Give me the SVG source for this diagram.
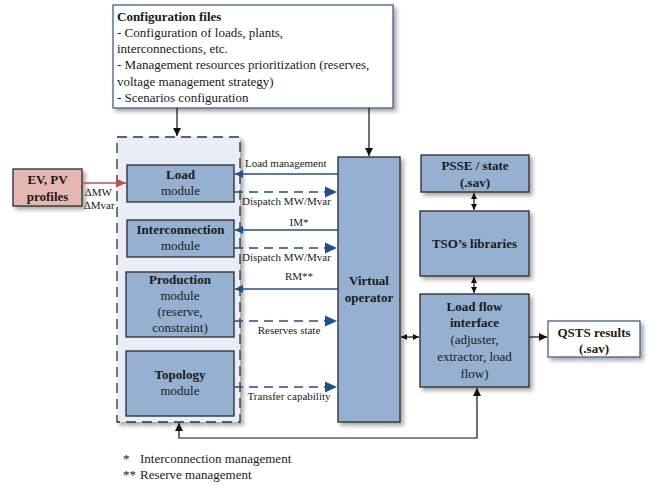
<svg xmlns="http://www.w3.org/2000/svg" width="655" height="485" viewBox="0 0 655 485" font-family="Liberation Serif, serif">
<style>
text{font-family:'Liberation Serif','Times New Roman',serif;fill:#1a1a1a}
.b{font-weight:bold}
.t13{font-size:13px}
.t11{font-size:11px}
.mod{fill:#95b0d1;stroke:#2a2a2a;stroke-width:1.3}
.blue{stroke:#1f4f8f;stroke-width:1.3;fill:none}
.dash{stroke-dasharray:9,6;stroke-width:1.6}
.blk{stroke:#111;stroke-width:1.2;fill:none}
</style>
<defs>
<filter id="sh" x="-20%" y="-20%" width="150%" height="150%">
<feGaussianBlur in="SourceAlpha" stdDeviation="2"/>
<feOffset dx="3" dy="3" result="o"/>
<feComponentTransfer><feFuncA type="linear" slope="0.35"/></feComponentTransfer>
<feMerge><feMergeNode/><feMergeNode in="SourceGraphic"/></feMerge>
</filter>
<marker id="ab" viewBox="0 0 10 10" refX="10" refY="5" markerWidth="8" markerHeight="8" markerUnits="userSpaceOnUse" orient="auto-start-reverse"><path d="M0,0 L10,5 L0,10 z" fill="#1f4f8f"/></marker>
<marker id="abL" viewBox="0 0 10 10" refX="10" refY="5" markerWidth="12" markerHeight="12" markerUnits="userSpaceOnUse" orient="auto-start-reverse"><path d="M0,0.5 L10,5 L0,9.5 z" fill="#1f4f8f"/></marker>
<marker id="ak" viewBox="0 0 10 10" refX="10" refY="5" markerWidth="8" markerHeight="8" markerUnits="userSpaceOnUse" orient="auto-start-reverse"><path d="M0,0 L10,5 L0,10 z" fill="#111"/></marker>
<marker id="as" viewBox="0 0 10 10" refX="10" refY="5" markerWidth="6" markerHeight="6" markerUnits="userSpaceOnUse" orient="auto-start-reverse"><path d="M0,0 L10,5 L0,10 z" fill="#111"/></marker>
<marker id="ar" viewBox="0 0 10 10" refX="10" refY="5" markerWidth="10" markerHeight="10" markerUnits="userSpaceOnUse" orient="auto-start-reverse"><path d="M0,0.5 L10,5 L0,9.5 z" fill="#c0504d"/></marker>
</defs>

<g id="config">
<rect x="113" y="5" width="280" height="103" fill="#fff" stroke="#41608f" stroke-width="1.3" filter="url(#sh)"/>
<text class="t13 b" x="117" y="21">Configuration files</text>
<text class="t13" x="117" y="37">- Configuration of loads, plants,</text>
<text class="t13" x="117" y="53">interconnections, etc.</text>
<text class="t13" x="117" y="69">- Management resources prioritization (reserves,</text>
<text class="t13" x="117" y="86">voltage management strategy)</text>
<text class="t13" x="117" y="102">- Scenarios configuration</text>
</g>

<g id="container">
<rect x="117" y="137" width="123" height="285" fill="#e9eef6" stroke="#333" stroke-width="1.3" stroke-dasharray="10,6" filter="url(#sh)"/>
</g>

<g id="ev">
<rect x="13" y="169" width="69" height="37" fill="#e5b6b2" stroke="#2a2a2a" stroke-width="1.3" filter="url(#sh)"/>
<text class="t13 b" x="47.5" y="184" text-anchor="middle">EV, PV</text>
<text class="t13 b" x="47.5" y="201" text-anchor="middle">profiles</text>
</g>

<g id="load">
<rect class="mod" x="127" y="165" width="107" height="37"/>
<text class="t13 b" x="180.5" y="179" text-anchor="middle">Load</text>
<text class="t13" x="180.5" y="195" text-anchor="middle">module</text>
</g>

<g id="interconnection">
<rect class="mod" x="127" y="220" width="107" height="37"/>
<text class="t13 b" x="180.5" y="234" text-anchor="middle">Interconnection</text>
<text class="t13" x="180.5" y="250" text-anchor="middle">module</text>
</g>

<g id="production">
<rect class="mod" x="126" y="272" width="108" height="65"/>
<text class="t13 b" x="180" y="284" text-anchor="middle">Production</text>
<text class="t13" x="180" y="300" text-anchor="middle">module</text>
<text class="t13" x="180" y="316" text-anchor="middle">(reserve,</text>
<text class="t13" x="180" y="332" text-anchor="middle">constraint)</text>
</g>

<g id="topology">
<rect class="mod" x="126" y="351" width="108" height="65"/>
<text class="t13 b" x="180" y="379" text-anchor="middle">Topology</text>
<text class="t13" x="180" y="395" text-anchor="middle">module</text>
</g>

<g id="virtual">
<rect class="mod" x="338" y="157" width="62" height="265" filter="url(#sh)"/>
<text class="t13 b" x="369" y="285" text-anchor="middle">Virtual</text>
<text class="t13 b" x="369" y="302" text-anchor="middle">operator</text>
</g>

<g id="psse">
<rect class="mod" x="421" y="155" width="108" height="37" filter="url(#sh)"/>
<text class="t13 b" x="475" y="170" text-anchor="middle">PSSE / state</text>
<text class="t13 b" x="475" y="187" text-anchor="middle">(.sav)</text>
</g>

<g id="tso">
<rect class="mod" x="420" y="211" width="109" height="65" filter="url(#sh)"/>
<text class="t13 b" x="474.5" y="248" text-anchor="middle">TSO’s libraries</text>
</g>

<g id="loadflow">
<rect class="mod" x="420" y="294" width="109" height="93" filter="url(#sh)"/>
<text class="t13 b" x="474.5" y="311" text-anchor="middle">Load flow</text>
<text class="t13 b" x="474.5" y="327" text-anchor="middle">interface</text>
<text class="t13" x="474.5" y="344" text-anchor="middle">(adjuster,</text>
<text class="t13" x="474.5" y="361" text-anchor="middle">extractor, load</text>
<text class="t13" x="474.5" y="378" text-anchor="middle">flow)</text>
</g>

<g id="qsts">
<rect x="548" y="321" width="92" height="36" fill="#fff" stroke="#41608f" stroke-width="1.3" filter="url(#sh)"/>
<text class="t13 b" x="594" y="337" text-anchor="middle">QSTS results</text>
<text class="t13 b" x="594" y="353" text-anchor="middle">(.sav)</text>
</g>

<g id="connectors">
<line class="blk" x1="177" y1="108" x2="177" y2="136" marker-end="url(#ak)"/>
<line class="blk" x1="369" y1="108" x2="369" y2="156" marker-end="url(#ak)"/>
<line x1="82" y1="183" x2="126" y2="183" stroke="#c0504d" stroke-width="1.3" marker-end="url(#ar)"/>

<line class="blue" x1="338" y1="174" x2="235" y2="174" marker-end="url(#ab)"/>
<line class="blue dash" x1="234" y1="192" x2="337" y2="192" marker-end="url(#abL)"/>
<line class="blue" x1="338" y1="230" x2="235" y2="230" marker-end="url(#ab)"/>
<line class="blue dash" x1="234" y1="248" x2="337" y2="248" marker-end="url(#abL)"/>
<line class="blue" x1="338" y1="289" x2="235" y2="289" marker-end="url(#ab)"/>
<line class="blue dash" x1="234" y1="321" x2="337" y2="321" marker-end="url(#abL)"/>
<line class="blue dash" x1="234" y1="387" x2="337" y2="387" marker-end="url(#abL)"/>

<line class="blk" x1="474" y1="193" x2="474" y2="210" marker-start="url(#as)" marker-end="url(#as)"/>
<line class="blk" x1="474" y1="277" x2="474" y2="293" marker-start="url(#as)" marker-end="url(#as)"/>
<line class="blk" x1="401" y1="337" x2="419" y2="337" marker-start="url(#as)" marker-end="url(#as)"/>
<line class="blk" x1="529" y1="337" x2="547" y2="337" marker-end="url(#ak)"/>
<polyline class="blk" points="477,388 477,438 179,438 179,423" marker-start="url(#ak)" marker-end="url(#ak)"/>

<text class="t11" x="245" y="167">Load management</text>
<text class="t11" x="242" y="205">Dispatch MW/Mvar</text>
<text class="t11" x="299" y="226" text-anchor="middle">IM*</text>
<text class="t11" x="242" y="261">Dispatch MW/Mvar</text>
<text class="t11" x="299" y="280" text-anchor="middle">RM**</text>
<text class="t11" x="289" y="334" text-anchor="middle">Reserves state</text>
<text class="t11" x="289" y="400" text-anchor="middle">Transfer capability</text>
<text class="t11" x="85" y="196">∆MW</text>
<text class="t11" x="84" y="209">∆Mvar</text>
</g>

<g id="notes">
<text class="t13" x="123" y="463">*</text>
<text class="t13" x="140" y="463">Interconnection management</text>
<text class="t13" x="123" y="479">**</text>
<text class="t13" x="140" y="479">Reserve management</text>
</g>
</svg>
